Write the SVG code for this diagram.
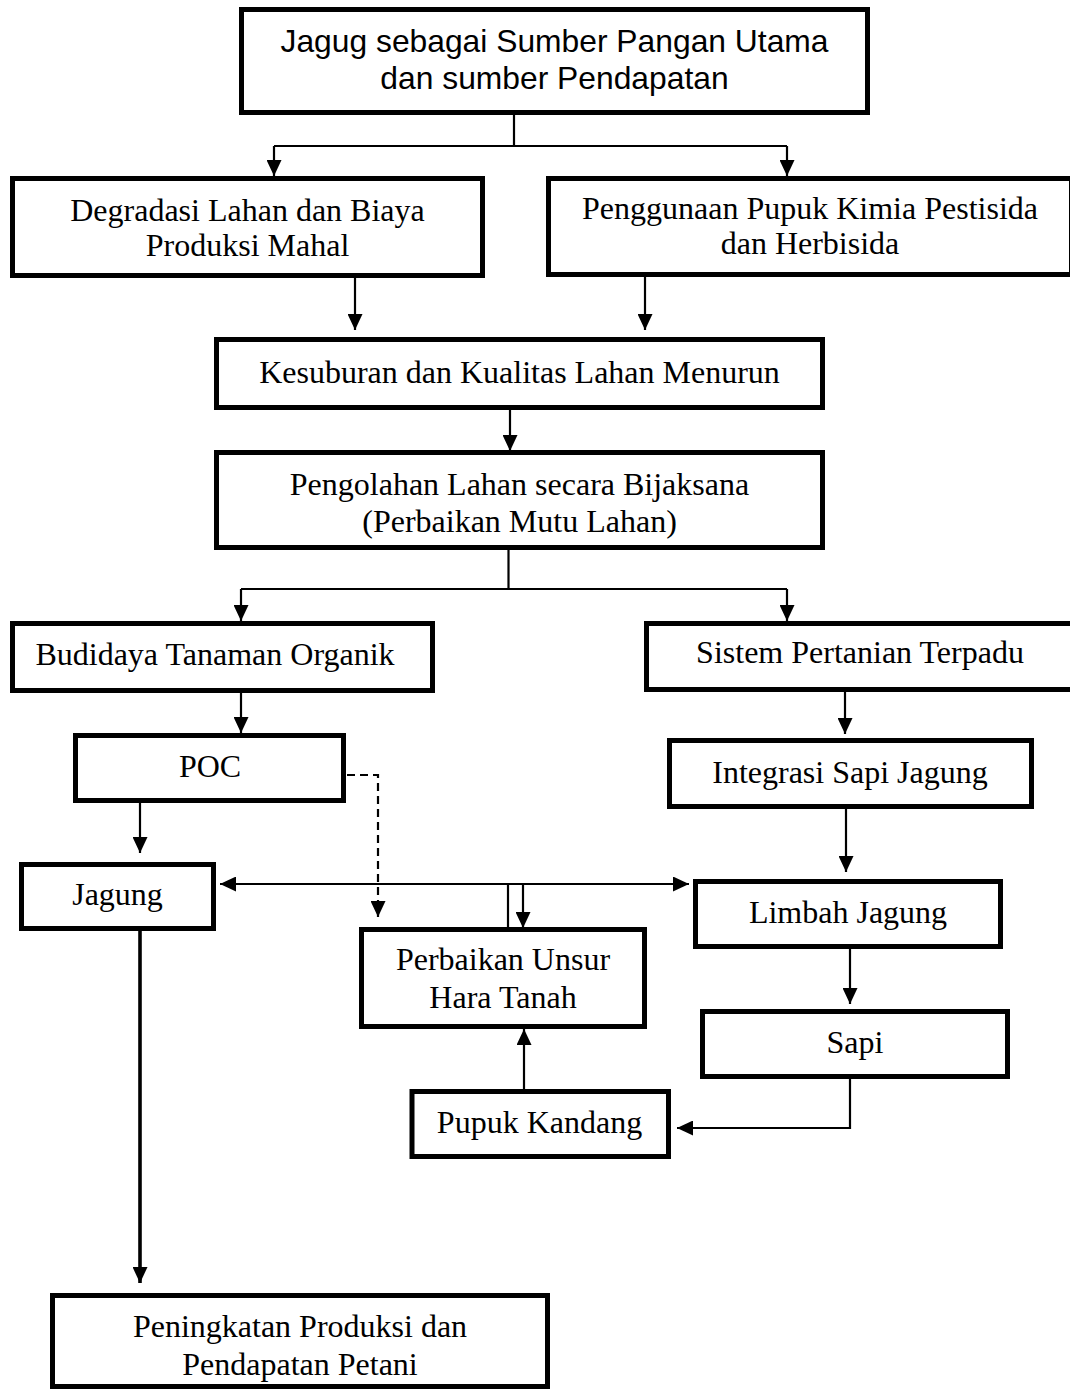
<svg xmlns="http://www.w3.org/2000/svg" width="1070" height="1390" viewBox="0 0 1070 1390">
<style>
.box{fill:#fff;stroke:#000;stroke-width:5}
.t{font-family:"Liberation Serif","Times New Roman",serif;font-size:32px;fill:#000;text-anchor:middle}
.s{font-family:"Liberation Sans",Arial,sans-serif;font-size:31.8px;fill:#000;text-anchor:middle}
.c{fill:none;stroke:#000;stroke-width:2.2}
.a{marker-end:url(#ah)}
.d{stroke-dasharray:8 5}
</style>
<defs>
<marker id="ah" markerUnits="userSpaceOnUse" markerWidth="16" markerHeight="15" refX="16" refY="7.5" orient="auto-start-reverse">
<path d="M0,0 L16,7.5 L0,15 z" fill="#000"/>
</marker>
</defs>
<rect width="1070" height="1390" fill="#fff"/>
<g id="connectors">
<path class="c" d="M514,115 V146 M274,146 H787"/>
<path class="c a" d="M274,146 V176"/>
<path class="c a" d="M787,146 V176"/>
<path class="c a" d="M355,278 V330"/>
<path class="c a" d="M645,277 V330"/>
<path class="c a" d="M510,410 V451"/>
<path class="c" d="M508.5,550 V589 M241,589 H787"/>
<path class="c a" d="M241,589 V621"/>
<path class="c a" d="M787,589 V621"/>
<path class="c a" d="M241,691 V733"/>
<path class="c a" d="M140,803 V853"/>
<path class="c a" d="M140,931 V1283" style="stroke-width:3.6"/>
<path class="c a" d="M845,692 V734"/>
<path class="c a" d="M846,809 V872"/>
<path class="c a" d="M850,949 V1004"/>
<path class="c a" d="M850,1079 V1128 H677"/>
<path class="c a" d="M524,1089 V1029"/>
<path class="c a" d="M220,884 H689" marker-start="url(#ah)"/>
<path class="c" d="M508,884 V927"/>
<path class="c a" d="M523,884 V928"/>
<path class="c d a" d="M347,775 H378 V917"/>
</g>
<g id="n-jagung-sumber">
<rect class="box" x="241.5" y="9.5" width="626" height="103"/>
<text class="s" x="554.5" y="52">Jagug sebagai Sumber Pangan Utama</text>
<text class="s" x="554.5" y="89">dan sumber Pendapatan</text>
</g>
<g id="n-degradasi">
<rect class="box" x="12.5" y="178.5" width="470" height="97"/>
<text class="t" x="247.5" y="221">Degradasi Lahan dan Biaya</text>
<text class="t" x="247.5" y="256">Produksi Mahal</text>
</g>
<g id="n-penggunaan">
<rect class="box" x="548.5" y="178.5" width="523" height="96"/>
<text class="t" x="810" y="219">Penggunaan Pupuk Kimia Pestisida</text>
<text class="t" x="810" y="254">dan Herbisida</text>
</g>
<g id="n-kesuburan">
<rect class="box" x="216.5" y="339.5" width="606" height="68"/>
<text class="t" x="519.5" y="383">Kesuburan dan Kualitas Lahan Menurun</text>
</g>
<g id="n-pengolahan">
<rect class="box" x="216.5" y="452.5" width="606" height="95"/>
<text class="t" x="519.5" y="495">Pengolahan Lahan secara Bijaksana</text>
<text class="t" x="519.5" y="532">(Perbaikan Mutu Lahan)</text>
</g>
<g id="n-budidaya">
<rect class="box" x="12.5" y="623.5" width="420" height="67"/>
<text class="t" x="215" y="665">Budidaya Tanaman Organik</text>
</g>
<g id="n-sistem">
<rect class="box" x="646.5" y="623.5" width="427" height="66"/>
<text class="t" x="860" y="663">Sistem Pertanian Terpadu</text>
</g>
<g id="n-poc">
<rect class="box" x="75.5" y="735.5" width="268" height="65"/>
<text class="t" x="210" y="777">POC</text>
</g>
<g id="n-integrasi">
<rect class="box" x="669.5" y="740.5" width="362" height="66"/>
<text class="t" x="850" y="783">Integrasi Sapi Jagung</text>
</g>
<g id="n-jagung">
<rect class="box" x="21.5" y="864.5" width="192" height="64"/>
<text class="t" x="117.5" y="905">Jagung</text>
</g>
<g id="n-limbah">
<rect class="box" x="695.5" y="881.5" width="305" height="65"/>
<text class="t" x="848" y="923">Limbah Jagung</text>
</g>
<g id="n-perbaikan">
<rect class="box" x="361.5" y="929.5" width="283" height="97"/>
<text class="t" x="503" y="970">Perbaikan Unsur</text>
<text class="t" x="503" y="1008">Hara Tanah</text>
</g>
<g id="n-sapi">
<rect class="box" x="702.5" y="1011.5" width="305" height="65"/>
<text class="t" x="855" y="1053">Sapi</text>
</g>
<g id="n-pupuk">
<rect class="box" x="412" y="1091.5" width="256.5" height="65"/>
<text class="t" x="539.5" y="1133">Pupuk Kandang</text>
</g>
<g id="n-peningkatan">
<rect class="box" x="52.5" y="1295.5" width="495" height="91"/>
<text class="t" x="300" y="1337">Peningkatan Produksi dan</text>
<text class="t" x="300" y="1375">Pendapatan Petani</text>
</g>
</svg>
